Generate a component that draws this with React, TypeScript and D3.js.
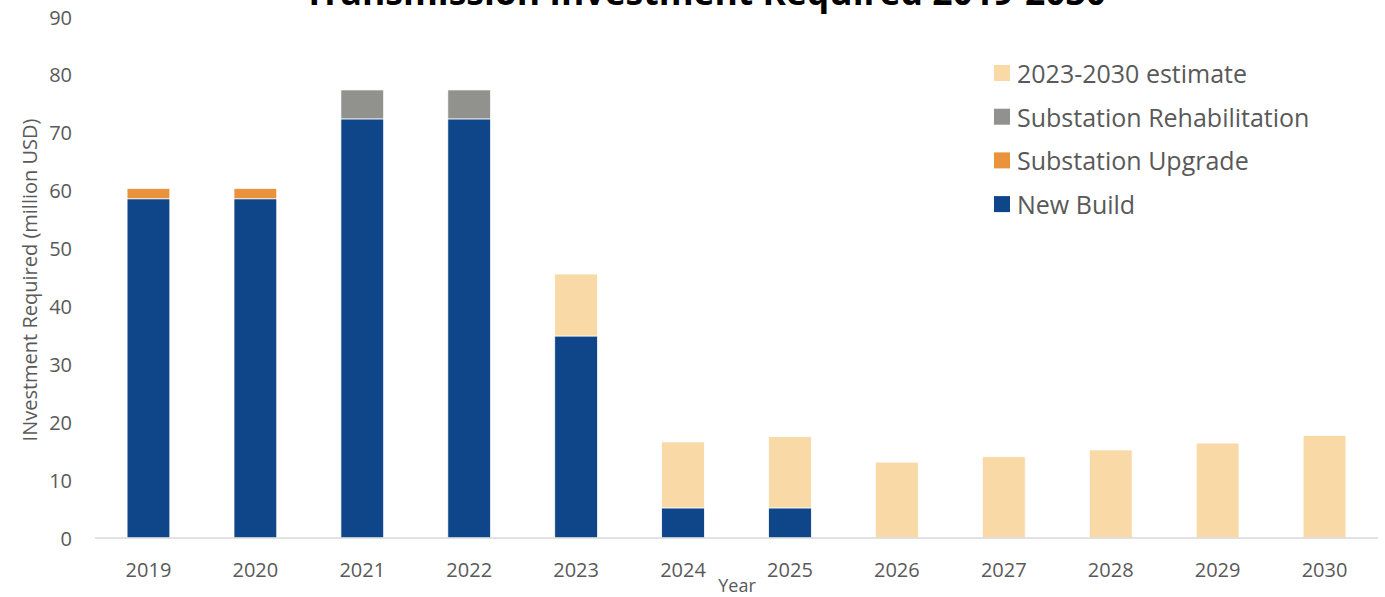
import React from "react";
import * as d3 from "d3";

const years = ["2019", "2020", "2021", "2022", "2023", "2024", "2025", "2026", "2027", "2028", "2029", "2030"];
const newBuild = [58.6, 58.6, 72.4, 72.4, 34.9, 5.2, 5.2, 0, 0, 0, 0, 0];
const substationUpgrade = [1.8, 1.8, 0, 0, 0, 0, 0, 0, 0, 0, 0, 0];
const substationRehab = [0, 0, 5.0, 5.0, 0, 0, 0, 0, 0, 0, 0, 0];
const estimate = [0, 0, 0, 0, 10.7, 11.4, 12.3, 13.1, 14.05, 15.2, 16.4, 17.7];
const yTicks = [0, 10, 20, 30, 40, 50, 60, 70, 80, 90];

const seriesKeys = ["newBuild", "upgrade", "rehab", "estimate"];
const seriesNames: Record<string, string> = {
  newBuild: "New Build",
  upgrade: "Substation Upgrade",
  rehab: "Substation Rehabilitation",
  estimate: "2023-2030 estimate",
};
const colors: Record<string, string> = {
  newBuild: "#0E4689",
  upgrade: "#EA923C",
  rehab: "#91928D",
  estimate: "#F9D9A5",
};
const legendOrder = ["estimate", "rehab", "upgrade", "newBuild"];

const W = 1385;
const H = 597;
const FONT = "'Open Sans', sans-serif";
const TXT = "#595959";

export default function App() {
  const rows = years.map((y, i) => ({
    year: y,
    newBuild: newBuild[i],
    upgrade: substationUpgrade[i],
    rehab: substationRehab[i],
    estimate: estimate[i],
  }));
  const stacked = d3.stack<any>().keys(seriesKeys)(rows);

  const x = d3.scaleBand<string>().domain(years).range([95, 1378]).paddingInner(0.6).paddingOuter(0.3);
  const y = d3.scaleLinear().domain([0, 90]).range([538, 17]);

  return (
    <div style={{ position: "absolute", left: 0, top: 0 }}>
      <svg width={W} height={H} style={{ display: "block", background: "#fff" }}>
        <text x={705} y={5} textAnchor="middle" fontFamily={FONT} fontWeight="bold" fontSize={35.5} fill="#000">
          Transmission Investment Required 2019-2030
        </text>
        {stacked.map((s) => (
          <g key={s.key} fill={colors[s.key]}>
            {s.map((d, i) =>
              d[1] - d[0] > 0 ? (
                <rect
                  key={i}
                  x={x(years[i])}
                  width={x.bandwidth()}
                  y={y(d[1])}
                  height={y(d[0]) - y(d[1])}
                  stroke="#fff"
                  strokeWidth={0.75}
                />
              ) : null
            )}
          </g>
        ))}
        <line x1={95} x2={1378} y1={y(0)} y2={y(0)} stroke="#D9D9D9" strokeWidth={1.5} />
        {yTicks.map((t) => (
          <text key={t} x={72} y={y(t)} textAnchor="end" dominantBaseline="central" fontFamily={FONT} fontSize={20} fill={TXT}>
            {t}
          </text>
        ))}
        {years.map((yr) => (
          <text key={yr} x={(x(yr) as number) + x.bandwidth() / 2} y={569} textAnchor="middle" dominantBaseline="central" fontFamily={FONT} fontSize={20} fill={TXT}>
            {yr}
          </text>
        ))}
        <text x={737} y={585} textAnchor="middle" dominantBaseline="central" fontFamily={FONT} fontSize={18} fill={TXT}>
          Year
        </text>
        <text
          transform={`translate(29,280) rotate(-90)`}
          textAnchor="middle"
          dominantBaseline="central"
          fontFamily={FONT}
          fontSize={20}
          fill={TXT}
        >
          INvestment Required (million USD)
        </text>
        {legendOrder.map((k, i) => {
          const cy = 73 + i * 43.7;
          return (
            <g key={k}>
              <rect x={994} y={cy - 8} width={16} height={16} fill={colors[k]} />
              <text x={1017} y={cy} dominantBaseline="central" fontFamily={FONT} fontSize={25} fill={TXT}>
                {seriesNames[k]}
              </text>
            </g>
          );
        })}
      </svg>
    </div>
  );
}
